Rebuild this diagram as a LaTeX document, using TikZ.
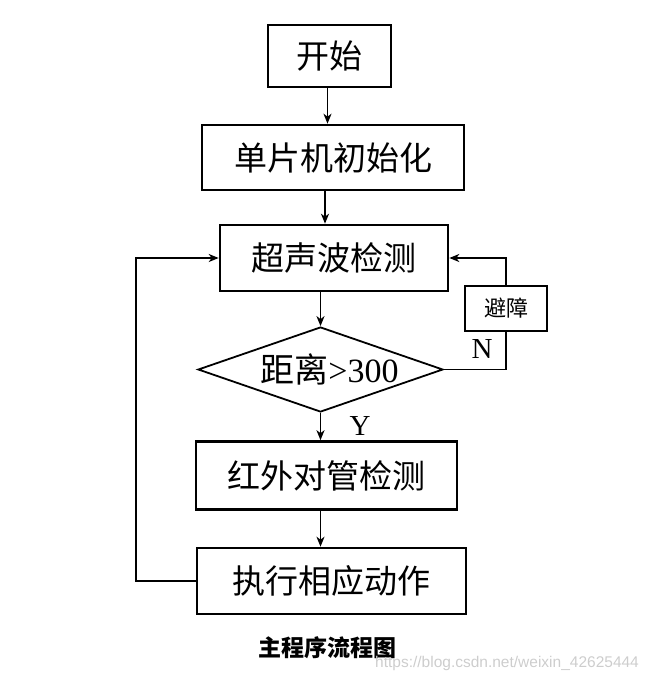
\documentclass[tikz,border=0pt]{standalone}
\usepackage{fontspec}
\setmainfont{Liberation Serif}
\newfontfamily\cjk{Noto Sans CJK SC}
\newfontfamily\wmfont{Liberation Sans}
\usetikzlibrary{shapes.geometric,arrows.meta}
\definecolor{wmgray}{RGB}{205,205,205}
\begin{document}
\begin{tikzpicture}[x=1pt,y=-1pt,
  box/.style={draw,line width=2.6pt,inner sep=0pt,font=\cjk\fontsize{33}{33}\selectfont},
  arr/.style={line width=1.8pt,-{Stealth[length=10pt,width=8pt,inset=3pt]}},
  con/.style={line width=1.8pt},
  lab/.style={font=\fontsize{29}{29}\selectfont,inner sep=0pt}]
\useasboundingbox (0,0) rectangle (657,681);
\node[box,minimum width=123pt,minimum height=62pt] (start) at (329.5,56) {开始};
\node[box,minimum width=262pt,minimum height=65pt] (init) at (333,157.5) {单片机初始化};
\node[box,minimum width=228pt,minimum height=66pt] (ultra) at (334,258) {超声波检测};
\node[draw,line width=1.8pt,shape=diamond,inner sep=0pt,minimum width=245pt,minimum height=85pt,
  label={[font=\fontsize{34}{34}\selectfont,xshift=9pt]center:{\cjk 距离}>300}] (dec) at (320.5,369.5) {};
\node[box,minimum width=261pt,minimum height=68pt] (ir) at (326.5,475.5) {红外对管检测};
\node[box,minimum width=269pt,minimum height=66pt] (act) at (331.5,581) {执行相应动作};
\node[draw,line width=1.8pt,fill=white,minimum width=82pt,minimum height=45pt,inner sep=0pt,
  font=\cjk\fontsize{22}{22}\selectfont] (avoid) at (506,308.5) {避障};
\node[lab] (nlab) at (482,349) {N};
\node[lab] (ylab) at (360,426) {Y};
\node[font=\cjk\bfseries\fontsize{23}{23}\selectfont,inner sep=0pt] (cap) at (327,648) {主程序流程图};
\node[font=\wmfont\fontsize{15.5}{15.5}\selectfont,text=wmgray,inner sep=0pt,anchor=west] (wm) at (375,663) {https://blog.csdn.net/weixin\_42625444};
\draw[arr] ([xshift=-2pt]start.south) -- ([xshift=-2pt]start.south |- init.north);
\draw[arr] ([xshift=-8pt]init.south) -- ([xshift=-8pt]init.south |- ultra.north);
\draw[arr] (dec.north |- ultra.south) -- (dec.north);
\draw[arr] (dec.south) -- (dec.south |- ir.north);
\draw[arr] (dec.south |- ir.south) -- (dec.south |- act.north);
\draw[arr] (act.west) -- ++(-60,0) |- (ultra.west);
\draw[con] (dec.east) -| (avoid.south);
\draw[arr] (avoid.north) |- (ultra.east);
\end{tikzpicture}
\end{document}
